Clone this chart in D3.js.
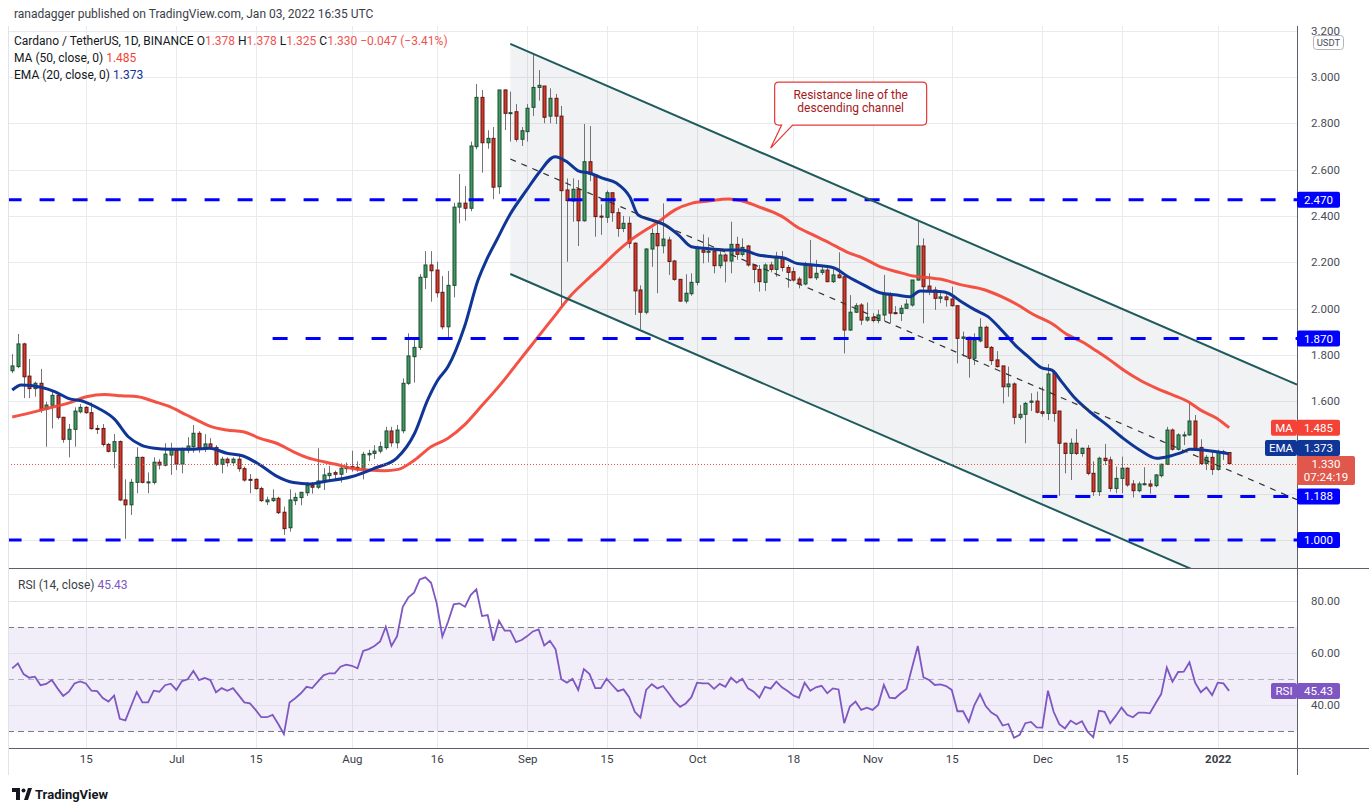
<!DOCTYPE html>
<html>
<head>
<meta charset="utf-8">
<script src="https://cdn.jsdelivr.net/npm/d3@7"></script>
<style>
  body { margin: 0; background: #fff; }
  svg text { font-family: Roboto, "Liberation Sans", sans-serif; }
</style>
</head>
<body>
<svg id="chart" width="1369" height="811"></svg>
<script>
// ---- data, first candle 2021-06-02 ----
const firstDay = Date.UTC(2021, 5, 2);

const opens = [
  1.731,1.749,1.847,1.708,1.654,1.677,1.565,1.582,1.625,1.530,
  1.435,1.478,1.554,1.573,1.550,1.482,1.482,1.413,1.383,1.425,
  1.173,1.152,1.249,1.357,1.247,1.249,1.336,1.323,1.367,1.386,
  1.328,1.389,1.403,1.461,1.396,1.415,1.400,1.327,1.349,1.334,
  1.349,1.308,1.262,1.262,1.222,1.165,1.170,1.180,1.120,1.053,
  1.170,1.183,1.204,1.235,1.228,1.252,1.278,1.291,1.284,1.308,
  1.317,1.314,1.305,1.368,1.374,1.384,1.399,1.471,1.420,1.472,
  1.677,1.792,1.832,2.135,2.188,2.166,2.070,1.921,2.100,2.438,
  2.455,2.433,2.699,2.912,2.716,2.735,2.526,2.944,2.843,2.850,
  2.731,2.764,2.869,2.955,2.961,2.831,2.908,2.831,2.512,2.464,
  2.515,2.379,2.634,2.577,2.399,2.394,2.500,2.414,2.346,2.368,
  2.282,2.080,1.984,2.257,2.324,2.271,2.296,2.205,2.126,2.032,
  2.064,2.113,2.253,2.243,2.248,2.185,2.231,2.205,2.277,2.234,
  2.270,2.188,2.169,2.113,2.188,2.169,2.217,2.177,2.159,2.127,
  2.106,2.188,2.133,2.156,2.166,2.116,2.145,2.137,1.907,1.984,
  2.015,1.950,1.962,1.948,1.972,2.063,1.982,1.979,2.001,2.015,
  2.123,2.270,2.097,2.080,2.044,2.050,2.041,2.012,1.871,1.876,
  1.785,1.860,1.919,1.832,1.778,1.752,1.662,1.674,1.530,1.543,
  1.595,1.600,1.554,1.547,1.723,1.557,1.418,1.374,1.418,1.374,
  1.396,1.288,1.209,1.353,1.346,1.223,1.266,1.310,1.242,1.213,
  1.240,1.242,1.235,1.278,1.327,1.475,1.392,1.451,1.454,1.514,
  1.400,1.331,1.357,1.305,1.381,1.378
];
const highs = [
  1.803,1.890,1.852,1.782,1.684,1.739,1.597,1.640,1.627,1.532,
  1.501,1.573,1.587,1.578,1.594,1.497,1.501,1.420,1.458,1.430,
  1.262,1.264,1.400,1.360,1.292,1.357,1.349,1.418,1.420,1.390,
  1.400,1.444,1.497,1.470,1.457,1.440,1.410,1.360,1.357,1.357,
  1.371,1.317,1.285,1.266,1.230,1.187,1.219,1.187,1.144,1.219,
  1.204,1.206,1.250,1.250,1.396,1.310,1.320,1.300,1.331,1.335,
  1.386,1.340,1.381,1.390,1.410,1.425,1.489,1.489,1.497,1.698,
  1.893,1.867,2.149,2.248,2.248,2.202,2.140,2.162,2.457,2.581,
  2.529,2.721,2.970,2.944,2.770,2.784,2.944,2.947,2.937,2.883,
  2.784,2.883,3.102,3.030,2.961,2.951,2.927,2.875,2.562,2.562,
  2.555,2.797,2.788,2.580,2.450,2.510,2.500,2.433,2.400,2.397,
  2.286,2.100,2.260,2.346,2.378,2.454,2.310,2.210,2.126,2.148,
  2.152,2.271,2.320,2.307,2.257,2.253,2.238,2.375,2.310,2.303,
  2.275,2.190,2.188,2.195,2.202,2.245,2.248,2.188,2.177,2.137,
  2.202,2.296,2.210,2.180,2.181,2.180,2.243,2.140,2.058,2.023,
  2.023,2.026,1.980,1.994,2.145,2.070,2.010,2.015,2.040,2.123,
  2.375,2.303,2.152,2.094,2.073,2.061,2.094,2.012,1.900,1.878,
  1.893,1.958,1.926,1.838,1.816,1.752,1.749,1.681,1.583,1.597,
  1.634,1.641,1.662,1.760,1.734,1.557,1.420,1.439,1.479,1.400,
  1.410,1.340,1.360,1.415,1.360,1.317,1.360,1.314,1.259,1.252,
  1.314,1.260,1.285,1.330,1.489,1.482,1.461,1.468,1.593,1.540,
  1.435,1.367,1.381,1.390,1.389,1.378
];
const lows = [
  1.721,1.742,1.613,1.613,1.619,1.549,1.403,1.482,1.521,1.420,
  1.357,1.403,1.547,1.545,1.477,1.458,1.404,1.378,1.310,1.168,
  1.005,1.108,1.202,1.245,1.202,1.240,1.305,1.318,1.281,1.302,
  1.288,1.375,1.377,1.377,1.380,1.390,1.320,1.288,1.317,1.320,
  1.295,1.252,1.202,1.218,1.165,1.151,1.165,1.112,1.022,1.036,
  1.151,1.150,1.190,1.200,1.220,1.216,1.256,1.256,1.248,1.290,
  1.295,1.295,1.262,1.340,1.350,1.374,1.390,1.403,1.396,1.461,
  1.670,1.680,1.821,2.084,2.029,2.048,1.910,1.871,2.048,2.368,
  2.379,2.420,2.688,2.587,2.690,2.472,2.495,2.771,2.721,2.721,
  2.702,2.721,2.831,2.898,2.800,2.800,2.797,2.008,2.202,2.375,
  2.270,2.375,2.550,2.310,2.318,2.370,2.375,2.310,2.330,2.260,
  1.972,1.910,1.975,2.180,2.066,2.238,2.145,2.120,2.029,2.022,
  2.055,2.100,2.195,2.200,2.152,2.173,2.113,2.152,2.210,2.224,
  2.181,2.109,2.073,2.076,2.156,2.137,2.160,2.090,2.116,2.087,
  2.100,2.130,2.123,2.145,2.113,2.110,2.130,1.806,1.903,1.980,
  1.929,1.943,1.940,1.936,1.946,1.936,1.975,1.946,2.000,2.008,
  2.119,1.936,2.058,1.994,2.023,2.008,2.008,1.763,1.792,1.701,
  1.756,1.854,1.828,1.756,1.745,1.590,1.619,1.500,1.520,1.418,
  1.557,1.547,1.533,1.518,1.511,1.191,1.288,1.259,1.367,1.360,
  1.280,1.190,1.190,1.324,1.209,1.202,1.202,1.230,1.184,1.206,
  1.236,1.200,1.228,1.270,1.324,1.386,1.386,1.410,1.450,1.389,
  1.324,1.302,1.281,1.300,1.346,1.325
];
const closes = [
  1.752,1.847,1.705,1.654,1.677,1.562,1.583,1.625,1.530,1.435,
  1.478,1.557,1.573,1.550,1.481,1.478,1.413,1.383,1.425,1.173,
  1.152,1.249,1.357,1.249,1.251,1.336,1.324,1.371,1.393,1.328,
  1.393,1.406,1.461,1.399,1.415,1.400,1.327,1.349,1.334,1.349,
  1.308,1.259,1.259,1.222,1.170,1.173,1.180,1.118,1.049,1.173,
  1.184,1.206,1.235,1.228,1.255,1.281,1.288,1.284,1.310,1.317,
  1.310,1.304,1.370,1.374,1.384,1.403,1.471,1.420,1.475,1.677,
  1.795,1.832,2.135,2.188,2.163,2.068,1.921,2.100,2.438,2.455,
  2.433,2.702,2.912,2.716,2.735,2.524,2.944,2.843,2.846,2.731,
  2.768,2.865,2.955,2.964,2.826,2.908,2.831,2.509,2.466,2.515,
  2.379,2.634,2.580,2.397,2.395,2.500,2.414,2.346,2.368,2.282,
  2.076,1.984,2.257,2.324,2.271,2.300,2.203,2.126,2.032,2.066,
  2.113,2.260,2.243,2.248,2.185,2.231,2.205,2.277,2.234,2.264,
  2.188,2.169,2.116,2.188,2.169,2.219,2.177,2.156,2.123,2.106,
  2.188,2.133,2.152,2.166,2.116,2.145,2.133,1.907,1.984,2.012,
  1.950,1.962,1.948,1.972,2.063,1.980,1.979,2.001,2.019,2.123,
  2.270,2.094,2.076,2.044,2.050,2.038,2.012,1.871,1.877,1.785,
  1.864,1.919,1.832,1.775,1.749,1.662,1.674,1.530,1.543,1.590,
  1.600,1.552,1.547,1.717,1.547,1.418,1.374,1.418,1.374,1.396,
  1.288,1.209,1.353,1.343,1.223,1.266,1.310,1.238,1.213,1.242,
  1.243,1.233,1.281,1.327,1.475,1.392,1.454,1.454,1.514,1.396,
  1.331,1.357,1.305,1.381,1.377,1.330
];

const rsiValues = [
  54.1,56.0,51.9,50.5,50.9,47.6,48.1,49.6,46.4,43.5,
  45.1,48.3,49.1,48.3,45.5,45.3,42.7,41.3,43.6,34.7,
  34.1,39.6,45.0,41.0,41.0,45.5,45.1,47.6,48.2,45.8,
  49.2,49.9,53.1,49.6,50.4,49.6,44.9,46.5,45.5,46.5,
  43.8,41.0,40.6,38.1,35.3,35.3,36.2,32.7,28.8,41.0,
  42.6,44.5,47.0,46.5,49.0,51.4,52.2,52.2,54.7,55.5,
  55.1,54.1,60.8,61.5,62.7,64.4,70.1,62.7,66.5,77.8,
  81.4,83.2,88.3,89.1,87.0,79.1,66.3,72.0,78.7,79.1,
  77.8,82.3,84.5,74.2,74.6,64.7,72.4,68.6,68.6,64.2,
  65.0,66.5,68.3,69.1,62.9,64.7,61.4,49.9,48.6,50.1,
  45.8,53.8,51.9,46.5,46.5,50.1,47.7,45.3,46.0,43.0,
  37.4,35.1,45.8,48.0,46.4,47.3,44.5,41.5,39.3,40.6,
  43.0,48.6,48.3,48.3,46.2,48.1,47.0,50.5,48.6,50.1,
  46.4,45.1,42.8,47.0,46.3,49.0,46.8,45.4,43.7,42.8,
  48.6,45.5,46.8,47.4,44.5,46.4,46.0,33.0,39.4,41.3,
  38.1,39.0,38.1,40.0,47.7,42.8,42.6,44.5,46.2,54.5,
  62.7,50.6,49.6,47.7,47.9,47.3,45.8,37.6,37.6,33.5,
  40.0,44.2,39.6,37.1,35.8,32.1,32.7,27.4,28.5,33.0,
  33.5,31.4,31.3,45.5,37.4,32.6,31.0,34.0,32.6,33.8,
  29.7,27.6,37.8,37.4,33.0,35.9,39.0,36.2,35.3,37.1,
  37.1,36.8,40.6,44.2,54.4,49.0,52.7,52.8,56.4,48.6,
  44.9,46.8,43.8,48.6,48.3,45.43
];

// MA(50) and EMA(20) read at sample days (days after the first candle)
const maDays = [0,2.8,6.3,9.9,13.1,16.3,19.3,22.2,25.2,27.5,30.8,33.2,34.9,37.9,40.8,43.8,46.7,49.7,52,55,
  57,59.9,62.9,65.8,68.2,71.1,74,77,79.9,82.3,86.2,89.7,92.7,96.2,98.5,101.5,104.4,106.8,109.1,114.2,
  117.1,120,123,126.5,129.5,131.8,134.2,136.5,138.6,141.5,144.5,147.4,150.4,153.3,156.3,159.2,162.1,163.9,167.7,171.9,
  174.8,177.7,180.6,183.6,186.5,189.5,191.3,193.9,196.6,199.2,202.2,205.1,207.8,209.9,212.8,215];
const maValues = [1.531,1.547,1.569,1.591,1.619,1.629,1.623,1.619,1.597,1.579,1.540,1.511,1.492,1.475,1.468,1.439,1.418,1.381,1.357,1.338,
  1.328,1.310,1.302,1.299,1.305,1.346,1.403,1.439,1.497,1.562,1.670,1.778,1.871,1.979,2.051,2.123,2.188,2.245,2.292,2.375,
  2.426,2.454,2.464,2.473,2.461,2.440,2.418,2.390,2.353,2.318,2.282,2.245,2.217,2.181,2.159,2.140,2.133,2.127,2.102,2.080,
  2.051,2.015,1.972,1.936,1.886,1.850,1.821,1.778,1.730,1.691,1.655,1.626,1.597,1.562,1.526,1.485];

const emaDays = [0,1.6,5.1,7.5,9.9,12.8,15.2,18.1,20.5,22.8,25.2,27.5,32,34.9,37.9,40.8,43.8,46.7,49.7,52.6,
  55,59.9,64,67.9,71.1,73.4,75.2,77,79.9,82.3,83.8,85.6,87.9,90.9,93.2,95.9,98,100,102.1,104.4,
  106.8,109.1,110.6,113,115.3,117.7,120,122.4,125.9,128.9,131.8,134.2,136.5,138.6,141.5,145.1,147.7,150.4,153.3,156.3,
  158.6,160.4,163.9,165.4,167.7,170.1,172.4,174.8,177.2,179.5,181.9,183.7,185.4,187.8,190.4,193.4,196.3,199.2,202.2,204.6,
  206.9,208.1,210.4,212.8,215];
const emaValues = [1.648,1.670,1.660,1.641,1.612,1.597,1.569,1.521,1.446,1.410,1.396,1.392,1.392,1.396,1.375,1.363,1.324,1.276,1.248,1.242,
  1.252,1.273,1.310,1.353,1.461,1.605,1.691,1.749,1.921,2.123,2.210,2.296,2.404,2.512,2.591,2.656,2.634,2.595,2.584,2.562,
  2.541,2.483,2.404,2.382,2.361,2.318,2.267,2.260,2.253,2.253,2.231,2.224,2.217,2.195,2.188,2.176,2.137,2.102,2.068,2.058,
  2.051,2.076,2.073,2.066,2.029,1.994,1.965,1.907,1.842,1.792,1.744,1.734,1.684,1.612,1.554,1.497,1.439,1.389,1.353,1.363,
  1.381,1.392,1.389,1.381,1.373];

// horizontal support / resistance levels drawn on the chart
const levelPrices = [2.470, 1.870, 1.188, 1.000];
const levelStarts = ['2021-06-01', '2021-07-18', '2021-12-01', '2021-06-01'];

// descending channel (start / end of the drawn lines)
const channelDates = ['2021-08-29', '2022-01-15'];
const channelUpper = [3.143, 1.671];
const channelLower = [2.149, 0.677];

const timeTicks = ['2021-06-15','2021-07-01','2021-07-15','2021-08-01','2021-08-16','2021-09-01','2021-09-15',
  '2021-10-01','2021-10-18','2021-11-01','2021-11-15','2021-12-01','2021-12-15','2022-01-01'];
const timeTickLabels = ['15','Jul','15','Aug','16','Sep','15','Oct','18','Nov','15','Dec','15','2022'];
const priceTicks = [1.6, 1.8, 2.0, 2.2, 2.4, 2.6, 2.8, 3.0, 3.2];
const priceGrid = [1.0, 1.2, 1.4, 1.6, 1.8, 2.0, 2.2, 2.4, 2.6, 2.8, 3.0, 3.2];
const rsiTicks = [40, 60, 80];

const lastPrice = 1.330;
const maLast = 1.485, emaLast = 1.373, rsiLast = 45.43;

// ---- layout ----
const W = 1369, H = 811;
const left = 8, right = 1297;
const mainTop = 26, mainBottom = 568;
const rsiTop = 568, rsiBottom = 748;

const DAY = 864e5;
const dayDate = i => new Date(firstDay + i * DAY);
const parse = s => new Date(s + 'T00:00:00Z');

const x = d3.scaleUtc()
  .domain([new Date(Date.UTC(2021, 5, 1, 6)), new Date(Date.UTC(2022, 0, 15))])
  .range([left, right]);
const y = d3.scaleLinear().domain([1, 3]).range([540, 77]);
const yr = d3.scaleLinear().domain([40, 80]).range([705, 601]);

const svg = d3.select('#chart');
const defs = svg.append('defs');
defs.append('clipPath').attr('id', 'clipMain')
  .append('rect').attr('x', left).attr('y', mainTop).attr('width', right - left).attr('height', mainBottom - mainTop);
defs.append('clipPath').attr('id', 'clipRsi')
  .append('rect').attr('x', left).attr('y', rsiTop).attr('width', right - left).attr('height', rsiBottom - rsiTop);

svg.append('rect').attr('width', W).attr('height', H).attr('fill', '#fff');

// ---- grid ----
const grid = svg.append('g');
grid.selectAll('.vgrid').data(timeTicks).enter().append('line')
  .attr('x1', d => Math.round(x(parse(d))) + 0.5).attr('x2', d => Math.round(x(parse(d))) + 0.5)
  .attr('y1', mainTop).attr('y2', rsiBottom)
  .attr('stroke', '#e9eaee');
grid.selectAll('.hgrid').data(priceGrid).enter().append('line')
  .attr('x1', left).attr('x2', right)
  .attr('y1', d => Math.round(y(d)) + 0.5).attr('y2', d => Math.round(y(d)) + 0.5)
  .attr('stroke', '#e9eaee');

// ---- main pane ----
const main = svg.append('g').attr('clip-path', 'url(#clipMain)');

const chPoint = (d, p) => [x(parse(d)), y(p)];
const upperPts = channelDates.map((d, i) => chPoint(d, channelUpper[i]));
const lowerPts = channelDates.map((d, i) => chPoint(d, channelLower[i]));
const midPts = channelDates.map((d, i) => chPoint(d, (channelUpper[i] + channelLower[i]) / 2));

main.append('path')
  .attr('d', d3.line()([upperPts[0], upperPts[1], lowerPts[1], lowerPts[0]]) + 'Z')
  .attr('fill', '#787b86').attr('fill-opacity', 0.1);

// candles
const candles = closes.map((c, i) => ({ date: dayDate(i), o: opens[i], h: highs[i], l: lows[i], c }));
const cg = main.selectAll('.candle').data(candles).enter().append('g').attr('class', 'candle');
cg.append('line')
  .attr('x1', d => Math.round(x(d.date)) + 0.5).attr('x2', d => Math.round(x(d.date)) + 0.5)
  .attr('y1', d => y(d.h)).attr('y2', d => y(d.l))
  .attr('stroke', '#737376').attr('stroke-width', 1);
cg.append('rect')
  .attr('x', d => Math.round(x(d.date)) - 1)
  .attr('width', 3)
  .attr('y', d => y(Math.max(d.o, d.c)))
  .attr('height', d => Math.max(1, Math.abs(y(d.o) - y(d.c))))
  .attr('fill', d => d.c >= d.o ? '#3f9a62' : '#d33a2c')
  .attr('stroke', d => d.c >= d.o ? '#1d4a2f' : '#641611')
  .attr('stroke-width', 1);

// moving averages
const avgLine = d3.line().x(d => x(dayDate(d[0]))).y(d => y(d[1])).curve(d3.curveMonotoneX);
main.append('path')
  .attr('d', avgLine(maDays.map((d, i) => [d, maValues[i]])))
  .attr('fill', 'none').attr('stroke', '#f44336').attr('stroke-width', 3).attr('stroke-opacity', 0.92);
main.append('path')
  .attr('d', avgLine(emaDays.map((d, i) => [d, emaValues[i]])))
  .attr('fill', 'none').attr('stroke', '#0f3597').attr('stroke-width', 3);

// current price line
main.append('line')
  .attr('x1', left).attr('x2', right)
  .attr('y1', Math.round(y(lastPrice)) + 0.5).attr('y2', Math.round(y(lastPrice)) + 0.5)
  .attr('stroke', '#e0584b').attr('stroke-dasharray', '1,2');

// horizontal levels
main.selectAll('.level').data(levelPrices).enter().append('line')
  .attr('x1', (d, i) => x(parse(levelStarts[i]))).attr('x2', right)
  .attr('y1', d => y(d)).attr('y2', d => y(d))
  .attr('stroke', '#0000ff').attr('stroke-width', 3).attr('stroke-dasharray', '15,18');

// channel lines
main.append('line')
  .attr('x1', upperPts[0][0]).attr('y1', upperPts[0][1]).attr('x2', upperPts[1][0]).attr('y2', upperPts[1][1])
  .attr('stroke', '#1f5b5c').attr('stroke-width', 2);
main.append('line')
  .attr('x1', lowerPts[0][0]).attr('y1', lowerPts[0][1]).attr('x2', lowerPts[1][0]).attr('y2', lowerPts[1][1])
  .attr('stroke', '#1f5b5c').attr('stroke-width', 2);
main.append('line')
  .attr('x1', midPts[0][0]).attr('y1', midPts[0][1]).attr('x2', midPts[1][0]).attr('y2', midPts[1][1])
  .attr('stroke', '#333').attr('stroke-width', 1.2).attr('stroke-dasharray', '6,6');

// callout
const tip = [x(parse('2021-10-14')), y(2.693)];
const bx = tip[0] + 4, bw = 152, by = tip[1] - 66, bh = 43, r = 4;
const callout = svg.append('g');
callout.append('path')
  .attr('d', `M${bx + r},${by} H${bx + bw - r} Q${bx + bw},${by} ${bx + bw},${by + r} V${by + bh - r}
    Q${bx + bw},${by + bh} ${bx + bw - r},${by + bh} H${bx + 18} L${tip[0]},${tip[1]} L${bx + 7},${by + bh}
    H${bx + r} Q${bx},${by + bh} ${bx},${by + bh - r} V${by + r} Q${bx},${by} ${bx + r},${by} Z`)
  .attr('fill', '#fff').attr('stroke', '#e53935').attr('stroke-width', 1.2);
callout.selectAll('text').data(['Resistance line of the', 'descending channel']).enter().append('text')
  .attr('x', bx + bw / 2).attr('y', (d, i) => by + 17 + i * 13)
  .attr('text-anchor', 'middle').attr('font-size', 12).attr('fill', '#a3191c')
  .text(d => d);

// ---- RSI pane ----
const rsiG = svg.append('g').attr('clip-path', 'url(#clipRsi)');
rsiG.append('rect')
  .attr('x', left).attr('width', right - left)
  .attr('y', yr(70)).attr('height', yr(30) - yr(70))
  .attr('fill', '#7e57c2').attr('fill-opacity', 0.1);
rsiG.selectAll('.rgrid').data(rsiTicks).enter().append('line')
  .attr('x1', left).attr('x2', right)
  .attr('y1', d => Math.round(yr(d)) + 0.5).attr('y2', d => Math.round(yr(d)) + 0.5)
  .attr('stroke', '#e2e1ea');
rsiG.selectAll('.rband').data([70, 50, 30]).enter().append('line')
  .attr('x1', left).attr('x2', right)
  .attr('y1', d => Math.round(yr(d)) + 0.5).attr('y2', d => Math.round(yr(d)) + 0.5)
  .attr('stroke', d => d === 50 ? '#b2b0bd' : '#787b86')
  .attr('stroke-dasharray', '6,4');
rsiG.append('path')
  .attr('d', d3.line().x((d, i) => x(dayDate(i))).y(d => yr(d))(rsiValues))
  .attr('fill', 'none').attr('stroke', '#7e57c2').attr('stroke-width', 1.8);

// ---- frames ----
svg.append('line').attr('x1', right + 0.5).attr('x2', right + 0.5).attr('y1', mainTop).attr('y2', 775)
  .attr('stroke', '#5d606b');
svg.append('line').attr('x1', left).attr('x2', W).attr('y1', mainBottom + 0.5).attr('y2', mainBottom + 0.5)
  .attr('stroke', '#5d606b');
svg.append('line').attr('x1', left).attr('x2', W).attr('y1', rsiBottom + 0.5).attr('y2', rsiBottom + 0.5)
  .attr('stroke', '#5d606b');
svg.append('line').attr('x1', left + 0.5).attr('x2', left + 0.5).attr('y1', mainTop).attr('y2', 775)
  .attr('stroke', '#e0e3eb');

// ---- axes ----
const priceAxis = svg.append('g').attr('transform', `translate(${right},0)`)
  .call(d3.axisRight(y).tickValues(priceTicks).tickFormat(d3.format('.3f')).tickSize(0).tickPadding(14));
priceAxis.select('.domain').remove();
priceAxis.selectAll('text').attr('font-size', 11.5).attr('fill', '#4a4d57')
  .attr('font-family', 'Roboto, "Liberation Sans", sans-serif');

const rsiAxis = svg.append('g').attr('transform', `translate(${right},0)`)
  .call(d3.axisRight(yr).tickValues(rsiTicks).tickFormat(d3.format('.2f')).tickSize(0).tickPadding(14));
rsiAxis.select('.domain').remove();
rsiAxis.selectAll('text').attr('font-size', 11.5).attr('fill', '#4a4d57')
  .attr('font-family', 'Roboto, "Liberation Sans", sans-serif');

const timeAxis = svg.append('g').attr('transform', `translate(0,${rsiBottom})`)
  .call(d3.axisBottom(x).tickValues(timeTicks.map(parse)).tickFormat((d, i) => timeTickLabels[i]).tickSize(0).tickPadding(7));
timeAxis.select('.domain').remove();
timeAxis.selectAll('text').attr('font-size', 11.5).attr('fill', '#3a3d47')
  .attr('font-family', 'Roboto, "Liberation Sans", sans-serif')
  .attr('font-weight', (d, i) => timeTickLabels[i] === '2022' ? 700 : 400);

// USDT box
svg.append('rect').attr('x', 1313.5).attr('y', 35.5).attr('width', 30).attr('height', 14).attr('rx', 3)
  .attr('fill', '#fff').attr('stroke', '#b2b5be');
svg.append('text').attr('x', 1328.5).attr('y', 46).attr('text-anchor', 'middle')
  .attr('font-size', 9.5).attr('fill', '#4a4d57').text('USDT');

// ---- price tags ----
function tag(x0, yc, w, h, color, lines) {
  const g = svg.append('g');
  g.append('rect').attr('x', x0).attr('y', yc - h / 2).attr('width', w).attr('height', h).attr('rx', 2)
    .attr('fill', color);
  lines.forEach((t, i) => {
    g.append('text').attr('x', x0 + w / 2).attr('y', yc - h / 2 + 12 + i * 13)
      .attr('text-anchor', 'middle').attr('font-size', 11.5).attr('fill', '#fff').text(t);
  });
}
// tags that would collide are nudged apart, like the chart's own axis does
const priceTagY = y(lastPrice) + 7;
const emaTagY = Math.min(y(emaLast), priceTagY - 14.5 - 8);
levelPrices.forEach(p => tag(right, y(p), 43, 16, '#0000ff', [d3.format('.3f')(p)]));
tag(1271, y(maLast), 26, 16, '#f44336', ['MA']);
tag(right, y(maLast), 43, 16, '#f44336', [d3.format('.3f')(maLast)]);
tag(1265, emaTagY, 32, 16, '#0f3597', ['EMA']);
tag(right, emaTagY, 43, 16, '#0f3597', [d3.format('.3f')(emaLast)]);
tag(right, priceTagY, 58, 29, '#e0584b', [d3.format('.3f')(lastPrice), '07:24:19']);
tag(1271, yr(rsiLast), 26, 16, '#7e57c2', ['RSI']);
tag(right, yr(rsiLast), 43, 16, '#7e57c2', [d3.format('.2f')(rsiLast)]);

// ---- legend ----
const legend = svg.append('g').attr('font-size', 12).attr('fill', '#131722');
legend.append('text').attr('x', 14).attr('y', 18).attr('fill', '#3a3d47')
  .text('ranadagger published on TradingView.com, Jan 03, 2022 16:35 UTC');
const l1 = legend.append('text').attr('x', 14).attr('y', 45);
l1.append('tspan').text('Cardano / TetherUS, 1D, BINANCE ');
const red = '#ef5350';
const n = closes.length;
const ohlc = [['O', opens[n - 1]], ['H', highs[n - 1]], ['L', lows[n - 1]], ['C', closes[n - 1]]];
ohlc.forEach(([k, v]) => {
  l1.append('tspan').text(' ' + k);
  l1.append('tspan').attr('fill', red).text(d3.format('.3f')(v));
});
const chg = closes[n - 1] - closes[n - 2];
l1.append('tspan').attr('fill', red)
  .text(' ' + d3.format('.3f')(chg).replace('-', '\u2212') + ' (' + d3.format('.2f')(chg / closes[n - 2] * 100).replace('-', '\u2212') + '%)');
const l2 = legend.append('text').attr('x', 14).attr('y', 62);
l2.append('tspan').text('MA (50, close, 0) ');
l2.append('tspan').attr('fill', '#f44336').text(d3.format('.3f')(maLast));
const l3 = legend.append('text').attr('x', 14).attr('y', 79);
l3.append('tspan').text('EMA (20, close, 0) ');
l3.append('tspan').attr('fill', '#0f3597').text(d3.format('.3f')(emaLast));
const l4 = legend.append('text').attr('x', 18).attr('y', 589);
l4.append('tspan').attr('fill', '#3a3d47').text('RSI (14, close) ');
l4.append('tspan').attr('fill', '#7e57c2').text(' ' + d3.format('.2f')(rsiLast));

// ---- TradingView logo ----
const logo = svg.append('g').attr('fill', '#131722');
logo.append('path').attr('d', 'M12,788 h8 v12 h-4 v-8 h-4 z');
logo.append('circle').attr('cx', 23.5).attr('cy', 790.5).attr('r', 2);
logo.append('path').attr('d', 'M24,800 l4,-12 h4 l-4,12 z');
svg.append('text').attr('x', 35).attr('y', 798.5).attr('font-size', 13).attr('font-weight', 700)
  .attr('fill', '#131722').text('TradingView');
</script>
</body>
</html>
